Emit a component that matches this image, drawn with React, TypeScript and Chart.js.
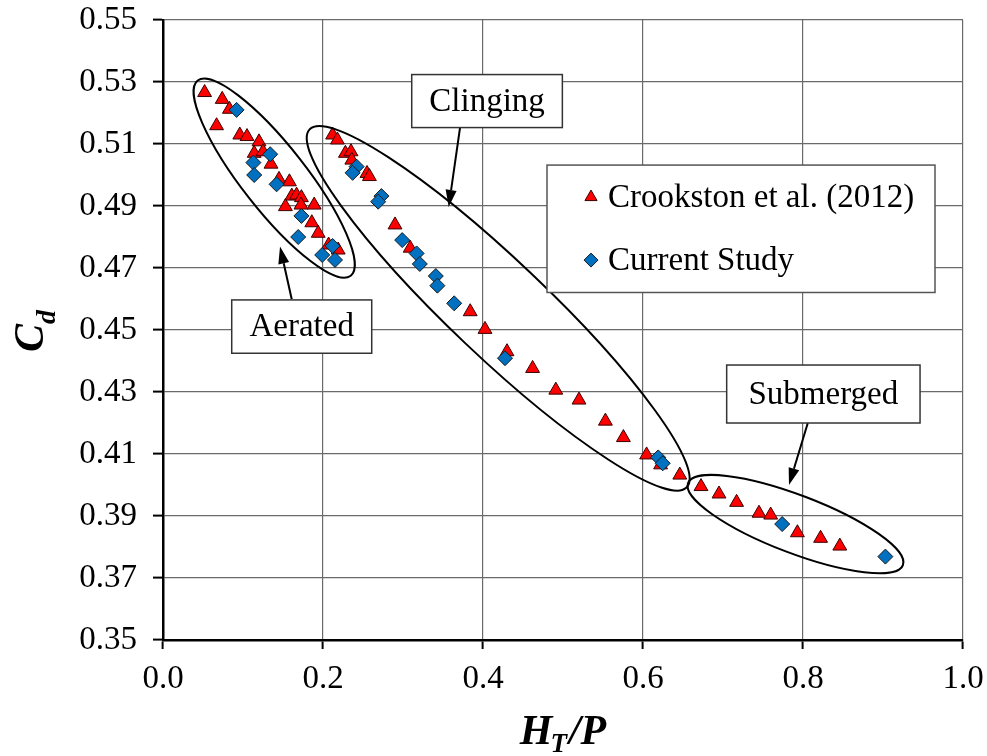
import React, { useEffect, useRef } from 'react';
import { Chart, registerables } from 'chart.js';

Chart.register(...registerables);

const SERIF = "'Liberation Serif', 'Times New Roman', Times, serif";

// Axis ticks
const xTicks = [0, 0.2, 0.4, 0.6, 0.8, 1.0];
const yTicks = [0.35, 0.37, 0.39, 0.41, 0.43, 0.45, 0.47, 0.49, 0.51, 0.53, 0.55];

// Crookston et al. (2012): H_T/P and C_d
const crookstonHtP = [
  0.052, 0.074, 0.083, 0.067, 0.096, 0.105, 0.120, 0.114, 0.125, 0.135, 0.145,
  0.158, 0.161, 0.167, 0.173, 0.153, 0.1725, 0.189, 0.186, 0.194, 0.207, 0.219,
  0.212, 0.218, 0.228, 0.235, 0.236, 0.255, 0.258, 0.290, 0.309, 0.384, 0.4025,
  0.430, 0.462, 0.491, 0.520, 0.553, 0.5755, 0.6045, 0.622, 0.646,
  0.6725, 0.695, 0.717, 0.745, 0.7596, 0.793, 0.822, 0.846,
];
const crookstonCd = [
  0.5266, 0.5244, 0.5212, 0.5159, 0.5129, 0.5124, 0.5107, 0.5070, 0.5075, 0.5035, 0.4986,
  0.4978, 0.4932, 0.4935, 0.4927, 0.4898, 0.4903, 0.4903, 0.4846, 0.4812, 0.4774, 0.4758,
  0.5129, 0.5113, 0.5070, 0.5075, 0.5048, 0.5005, 0.4995, 0.4839, 0.4764, 0.4559, 0.4502,
  0.4430, 0.4376, 0.4306, 0.4274, 0.4206, 0.4153, 0.4097, 0.4065, 0.4032,
  0.3995, 0.3971, 0.3944, 0.3909, 0.3903, 0.3846, 0.3828, 0.3803,
];

// Current study: H_T/P and C_d
const currentHtP = [
  0.092, 0.134, 0.113, 0.114, 0.142, 0.173, 0.169, 0.212, 0.199, 0.215,
  0.242, 0.237, 0.273, 0.269, 0.299, 0.317, 0.321, 0.341, 0.343, 0.364,
  0.4275, 0.619, 0.6246, 0.774, 0.903,
];
const currentCd = [
  0.5210, 0.5067, 0.5040, 0.5000, 0.4970, 0.4868, 0.4800, 0.4771, 0.4742, 0.4726,
  0.5027, 0.5007, 0.4932, 0.4914, 0.4790, 0.4747, 0.4713, 0.4674, 0.4643, 0.4586,
  0.4409, 0.4089, 0.4070, 0.3874, 0.3769,
];

const seriesLabels = ['Crookston et al. (2012)', 'Current Study'];

// Flow regimes: ellipse centre (data units), semi-axes (px), tilt (deg)
const regimeLabels = ['Aerated', 'Clinging', 'Submerged'];
const regimeEllipses = [
  { cx: 0.139, cy: 0.4990, rx: 124, ry: 32, tilt: 51.9 },
  { cx: 0.419, cy: 0.4570, rx: 260, ry: 48, tilt: 43.5 },
  { cx: 0.7906, cy: 0.3874, rx: 115, ry: 29, tilt: 20.9 },
];
// Callout boxes [x0, yTop, x1, yBottom] and arrows [fromX, fromY, toX, toY], data units
const regimeBoxes = [
  [0.0859, 0.4597, 0.2609, 0.4425],
  [0.3109, 0.5324, 0.4992, 0.5153],
  [0.7046, 0.4387, 0.9463, 0.4200],
];
const regimeArrows = [
  [0.1609, 0.4599, 0.1463, 0.4769],
  [0.3713, 0.5153, 0.3571, 0.4897],
  [0.806, 0.4200, 0.7825, 0.4000],
];
// Legend frame [x0, yTop, x1, yBottom], data units
const legendFrame = [0.48, 0.5032, 0.965, 0.4621];

const TRI_FILL = '#ff0000';
const TRI_EDGE = '#3a0000';
const DIA_FILL = '#0070c0';
const DIA_EDGE = '#1a1a1a';

function drawArrow(ctx: CanvasRenderingContext2D, x0: number, y0: number, x1: number, y1: number) {
  const ang = Math.atan2(y1 - y0, x1 - x0);
  const headLen = 17;
  const headHalf = 5.5;
  const bx = x1 - Math.cos(ang) * headLen;
  const by = y1 - Math.sin(ang) * headLen;
  ctx.beginPath();
  ctx.moveTo(x0, y0);
  ctx.lineTo(bx, by);
  ctx.lineWidth = 2;
  ctx.strokeStyle = '#000';
  ctx.stroke();
  ctx.beginPath();
  ctx.moveTo(x1, y1);
  ctx.lineTo(bx + Math.sin(ang) * headHalf, by - Math.cos(ang) * headHalf);
  ctx.lineTo(bx - Math.sin(ang) * headHalf, by + Math.cos(ang) * headHalf);
  ctx.closePath();
  ctx.fillStyle = '#000';
  ctx.fill();
}

const overlayPlugin = {
  id: 'regimeOverlay',
  afterDatasetsDraw(chart: any) {
    const { ctx } = chart;
    const xs = chart.scales.x;
    const ys = chart.scales.y;
    const px = (v: number) => xs.getPixelForValue(v);
    const py = (v: number) => ys.getPixelForValue(v);
    ctx.save();

    // regime ellipses
    regimeEllipses.forEach((e) => {
      ctx.beginPath();
      ctx.ellipse(px(e.cx), py(e.cy), e.rx, e.ry, (e.tilt * Math.PI) / 180, 0, Math.PI * 2);
      ctx.lineWidth = 2;
      ctx.strokeStyle = '#000';
      ctx.stroke();
    });

    // arrows
    regimeArrows.forEach((a) => drawArrow(ctx, px(a[0]), py(a[1]), px(a[2]), py(a[3])));

    // callout boxes
    regimeBoxes.forEach((b, i) => {
      const x0 = px(b[0]);
      const y0 = py(b[1]);
      const x1 = px(b[2]);
      const y1 = py(b[3]);
      ctx.fillStyle = '#fff';
      ctx.fillRect(x0, y0, x1 - x0, y1 - y0);
      ctx.lineWidth = 1.5;
      ctx.strokeStyle = '#333';
      ctx.strokeRect(x0, y0, x1 - x0, y1 - y0);
      ctx.fillStyle = '#000';
      ctx.font = `33px ${SERIF}`;
      ctx.textAlign = 'center';
      ctx.textBaseline = 'middle';
      ctx.fillText(regimeLabels[i], (x0 + x1) / 2, (y0 + y1) / 2 + 1);
    });

    // legend
    const lx0 = px(legendFrame[0]);
    const ly0 = py(legendFrame[1]);
    const lx1 = px(legendFrame[2]);
    const ly1 = py(legendFrame[3]);
    ctx.fillStyle = '#fff';
    ctx.fillRect(lx0, ly0, lx1 - lx0, ly1 - ly0);
    ctx.lineWidth = 1.5;
    ctx.strokeStyle = '#555';
    ctx.strokeRect(lx0, ly0, lx1 - lx0, ly1 - ly0);

    const rowBase = [ly0 + 42, ly0 + 105];
    const mx = lx0 + 44;
    // triangle marker
    {
      const cy = rowBase[0] - 10;
      const r = 7;
      ctx.beginPath();
      ctx.moveTo(mx, cy - r);
      ctx.lineTo(mx + r * 0.866, cy + r * 0.5);
      ctx.lineTo(mx - r * 0.866, cy + r * 0.5);
      ctx.closePath();
      ctx.fillStyle = TRI_FILL;
      ctx.fill();
      ctx.lineWidth = 1;
      ctx.strokeStyle = TRI_EDGE;
      ctx.stroke();
    }
    // diamond marker
    {
      const cy = rowBase[1] - 10;
      const r = 7;
      ctx.beginPath();
      ctx.moveTo(mx, cy - r);
      ctx.lineTo(mx + r, cy);
      ctx.lineTo(mx, cy + r);
      ctx.lineTo(mx - r, cy);
      ctx.closePath();
      ctx.fillStyle = DIA_FILL;
      ctx.fill();
      ctx.lineWidth = 1;
      ctx.strokeStyle = DIA_EDGE;
      ctx.stroke();
    }
    ctx.fillStyle = '#000';
    ctx.font = `33px ${SERIF}`;
    ctx.textAlign = 'left';
    ctx.textBaseline = 'alphabetic';
    ctx.fillText(seriesLabels[0], lx0 + 61, rowBase[0]);
    ctx.fillText(seriesLabels[1], lx0 + 61, rowBase[1]);

    ctx.restore();
  },
  afterDraw(chart: any) {
    const { ctx, chartArea } = chart;
    ctx.save();
    ctx.fillStyle = '#000';
    ctx.textBaseline = 'alphabetic';
    ctx.textAlign = 'left';

    // x-axis title: H_T/P
    const big = `italic bold 42px ${SERIF}`;
    const sub = `italic bold 27px ${SERIF}`;
    ctx.font = big;
    const wH = ctx.measureText('H').width;
    const wSP = ctx.measureText('/P').width;
    ctx.font = sub;
    const wT = ctx.measureText('T').width;
    const total = wH + wT + wSP;
    let x = (chartArea.left + chartArea.right) / 2 - total / 2;
    const base = 744;
    ctx.font = big;
    ctx.fillText('H', x, base);
    x += wH - 2;
    ctx.font = sub;
    ctx.fillText('T', x, base + 8);
    x += wT + 2;
    ctx.font = big;
    ctx.fillText('/P', x, base);

    // y-axis title: C_d
    ctx.translate(43, 352);
    ctx.rotate(-Math.PI / 2);
    ctx.font = `italic bold 42px ${SERIF}`;
    const wC = ctx.measureText('C').width;
    ctx.fillText('C', 0, 0);
    ctx.font = `italic bold 28px ${SERIF}`;
    ctx.fillText('d', wC, 12);
    ctx.restore();
  },
};

export default function App() {
  const canvasRef = useRef<HTMLCanvasElement | null>(null);

  useEffect(() => {
    const canvas = canvasRef.current;
    if (!canvas) return;
    const chart = new Chart(canvas, {
      type: 'scatter',
      data: {
        datasets: [
          {
            label: seriesLabels[1],
            data: currentHtP.map((v, i) => ({ x: v, y: currentCd[i] })),
            pointStyle: 'rectRot',
            pointRadius: 7.5,
            backgroundColor: DIA_FILL,
            borderColor: DIA_EDGE,
            borderWidth: 1,
          },
          {
            label: seriesLabels[0],
            data: crookstonHtP.map((v, i) => ({ x: v, y: crookstonCd[i] })),
            pointStyle: 'triangle',
            pointRadius: 8,
            backgroundColor: TRI_FILL,
            borderColor: TRI_EDGE,
            borderWidth: 1,
          },
        ],
      },
      options: {
        animation: false,
        responsive: false,
        devicePixelRatio: 1,
        layout: { padding: { left: 0, right: 24, top: 20, bottom: 0 } },
        plugins: {
          legend: { display: false },
          tooltip: { enabled: false },
        },
        scales: {
          x: {
            type: 'linear',
            min: 0,
            max: 1,
            afterBuildTicks: (s: any) => {
              s.ticks = xTicks.map((v) => ({ value: v }));
            },
            afterFit: (s: any) => {
              s.height = 116;
              s.paddingLeft = 0;
              s.paddingRight = 0;
            },
            ticks: {
              font: { family: SERIF, size: 33 },
              color: '#000',
              padding: 11,
              maxRotation: 0,
              autoSkip: false,
              callback: (v: any) => Number(v).toFixed(1),
            },
            grid: {
              color: '#6a6a6a',
              lineWidth: 1.2,
              tickLength: 9,
              tickColor: '#000',
              tickWidth: 2,
            },
            border: { display: true, color: '#000', width: 2.5 },
          },
          y: {
            type: 'linear',
            min: 0.35,
            max: 0.55,
            afterBuildTicks: (s: any) => {
              s.ticks = yTicks.map((v) => ({ value: v }));
            },
            afterFit: (s: any) => {
              s.width = 163;
              s.paddingTop = 0;
              s.paddingBottom = 0;
            },
            ticks: {
              font: { family: SERIF, size: 33 },
              color: '#000',
              padding: 16,
              autoSkip: false,
              callback: (v: any) => Number(v).toFixed(2),
            },
            grid: {
              color: '#6a6a6a',
              lineWidth: 1.2,
              tickLength: 10,
              tickColor: '#000',
              tickWidth: 2,
            },
            border: { display: true, color: '#000', width: 2.5 },
          },
        },
      },
      plugins: [overlayPlugin],
    });
    return () => chart.destroy();
  }, []);

  return (
    <div style={{ position: 'fixed', left: 0, top: 0, width: 987, height: 756, background: '#fff' }}>
      <canvas ref={canvasRef} width={987} height={756} />
    </div>
  );
}
